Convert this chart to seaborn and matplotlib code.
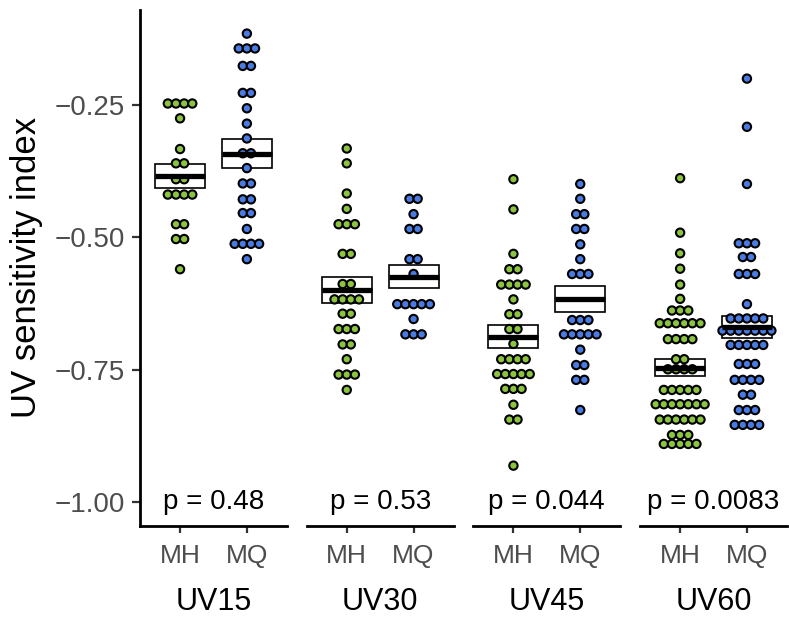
import numpy as np
import pandas as pd
import seaborn as sns
import matplotlib.pyplot as plt

# dot rows: bin value and how many dots sit in that row
uv15_mh_vals = [-0.247, -0.275, -0.333, -0.360, -0.390, -0.419, -0.475, -0.503, -0.560]
uv15_mh_counts = [4, 1, 1, 2, 2, 4, 2, 2, 1]
uv15_mq_vals = [-0.115, -0.143, -0.176, -0.227, -0.256, -0.285, -0.313, -0.341,
                -0.369, -0.398, -0.428, -0.454, -0.484, -0.512, -0.541]
uv15_mq_counts = [1, 3, 2, 2, 1, 1, 1, 2, 1, 2, 2, 2, 1, 4, 1]

uv30_mh_vals = [-0.332, -0.360, -0.417, -0.446, -0.475, -0.531, -0.588, -0.617,
                -0.644, -0.673, -0.702, -0.730, -0.759, -0.788]
uv30_mh_counts = [1, 1, 1, 1, 3, 2, 2, 4, 2, 3, 2, 1, 3, 1]
uv30_mq_vals = [-0.427, -0.456, -0.484, -0.541, -0.569, -0.626, -0.654, -0.683]
uv30_mq_counts = [2, 1, 2, 2, 1, 5, 1, 3]

uv45_mh_vals = [-0.390, -0.447, -0.531, -0.560, -0.589, -0.617, -0.645, -0.673,
                -0.701, -0.730, -0.758, -0.786, -0.816, -0.844, -0.931]
uv45_mh_counts = [1, 1, 1, 2, 4, 1, 2, 2, 1, 4, 5, 3, 1, 2, 1]
uv45_mq_vals = [-0.399, -0.427, -0.456, -0.484, -0.513, -0.541, -0.569, -0.656,
                -0.683, -0.712, -0.741, -0.769, -0.826]
uv45_mq_counts = [1, 1, 2, 2, 1, 1, 3, 3, 5, 1, 2, 2, 1]

uv60_mh_vals = [-0.388, -0.491, -0.530, -0.559, -0.589, -0.616, -0.638, -0.662,
                -0.692, -0.730, -0.749, -0.788, -0.815, -0.844, -0.873, -0.890]
uv60_mh_counts = [1, 1, 1, 1, 1, 1, 3, 6, 4, 2, 4, 5, 7, 6, 3, 5]
uv60_mq_vals = [-0.200, -0.291, -0.399, -0.511, -0.537, -0.569, -0.626, -0.653,
                -0.676, -0.703, -0.739, -0.769, -0.797, -0.826, -0.854]
uv60_mq_counts = [1, 1, 1, 3, 2, 3, 1, 5, 7, 5, 3, 4, 2, 3, 4]

treatments = ['UV15', 'UV30', 'UV45', 'UV60']
groups = ['MH', 'MQ']
p_values = ['0.48', '0.53', '0.044', '0.0083']
colors = {'MH': '#8CC43F', 'MQ': '#4A7BE3'}

rows = {
    ('UV15', 'MH'): (uv15_mh_vals, uv15_mh_counts),
    ('UV15', 'MQ'): (uv15_mq_vals, uv15_mq_counts),
    ('UV30', 'MH'): (uv30_mh_vals, uv30_mh_counts),
    ('UV30', 'MQ'): (uv30_mq_vals, uv30_mq_counts),
    ('UV45', 'MH'): (uv45_mh_vals, uv45_mh_counts),
    ('UV45', 'MQ'): (uv45_mq_vals, uv45_mq_counts),
    ('UV60', 'MH'): (uv60_mh_vals, uv60_mh_counts),
    ('UV60', 'MQ'): (uv60_mq_vals, uv60_mq_counts),
}

parts = []
for (t, g), (vals, counts) in rows.items():
    parts.append(pd.DataFrame({'treatment': t, 'group': g,
                               'value': np.repeat(vals, counts)}))
df = pd.concat(parts, ignore_index=True)

# centred dot stacks, like a dotplot with stackdir = "center"
dot_w = 0.122
k = df.groupby(['treatment', 'group', 'value']).cumcount()
n = df.groupby(['treatment', 'group', 'value'])['value'].transform('size')
df['xpos'] = df['group'].map({g: i for i, g in enumerate(groups)}) + (k - (n - 1) / 2) * dot_w

stats = df.groupby(['treatment', 'group'])['value'].agg(['mean', 'sem']).reset_index()

sns.set_theme(style='white')
plt.rcParams['font.family'] = ['Liberation Sans', 'DejaVu Sans']

fig, axes = plt.subplots(1, 4, sharey=True, figsize=(7.89, 6.25), dpi=100)
fig.subplots_adjust(left=0.1774, right=0.9975, bottom=0.159, top=0.984, wspace=0.134)

box_w = 0.75
for i, (ax, t) in enumerate(zip(axes, treatments)):
    st = stats[stats['treatment'] == t].set_index('group').loc[groups]
    xs = np.arange(len(groups))
    ax.bar(xs, 2 * st['sem'], bottom=st['mean'] - st['sem'], width=box_w,
           color='white', edgecolor='black', linewidth=1.2, zorder=1)
    sns.scatterplot(data=df[df['treatment'] == t], x='xpos', y='value', hue='group',
                    palette=colors, s=36, edgecolor='black', linewidth=1.5,
                    legend=False, ax=ax, zorder=3)
    ax.hlines(st['mean'], xs - box_w / 2, xs + box_w / 2, color='black',
              linewidth=3.8, zorder=4)
    ax.text(0.5, -1.0, f'p = {p_values[i]}', ha='center', va='center',
            fontsize=20, color='black')

    ax.set_xlim(-0.6, 1.6)
    ax.set_ylim(-1.0443, -0.0704)
    ax.set_xticks(xs)
    ax.set_xticklabels(groups)
    ax.set_xlabel(t, fontsize=22, color='black', labelpad=14)
    ax.set_ylabel('')
    ax.tick_params(axis='x', length=5, width=1.6, color='#333333', pad=8,
                   labelsize=19, labelcolor='#4D4D4D', bottom=True)
    sns.despine(ax=ax, left=(i > 0))
    ax.spines['bottom'].set_linewidth(2.0)
    ax.spines['bottom'].set_color('black')
    if i == 0:
        ax.spines['left'].set_linewidth(2.0)
        ax.spines['left'].set_color('black')
        ax.set_yticks([-1.0, -0.75, -0.5, -0.25])
        ax.set_yticklabels([f'{v:.2f}'.replace('-', '\u2212') for v in [-1.0, -0.75, -0.5, -0.25]])
        ax.tick_params(axis='y', length=6, width=1.6, color='#333333', pad=5,
                       labelsize=20, labelcolor='#4D4D4D', left=True)
        ax.set_ylabel('UV sensitivity index', fontsize=25, color='black', labelpad=8)
    else:
        ax.tick_params(axis='y', left=False, labelleft=False)

fig.savefig('out.png', dpi=100)
